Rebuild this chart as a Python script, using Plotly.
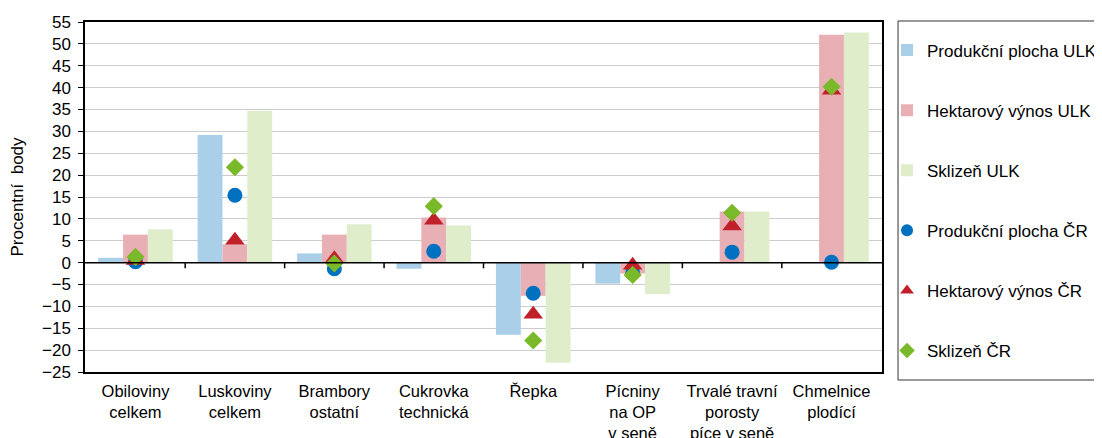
import plotly.graph_objects as go

categories = ["Obiloviny<br>celkem", "Luskoviny<br>celkem", "Brambory<br>ostatní", "Cukrovka<br>technická",
              "Řepka", "Pícniny<br>na OP<br>v seně", "Trvalé travní<br>porosty<br>píce v seně", "Chmelnice<br>plodící"]

plocha_ulk = [1.1, 29.2, 2.1, -1.4, -16.5, -4.8, 0.0, 0.1]
vynos_ulk = [6.4, 4.2, 6.4, 10.3, -7.6, -2.5, 11.7, 52.1]
sklizen_ulk = [7.6, 34.7, 8.8, 8.5, -22.9, -7.2, 11.7, 52.6]
plocha_cr = [0.2, 15.4, -1.4, 2.6, -7.0, -2.4, 2.4, 0.1]
vynos_cr = [0.5, 5.1, 0.9, 9.7, -11.8, -0.6, 8.4, 39.4]
sklizen_cr = [1.3, 21.8, -0.2, 12.9, -17.8, -2.8, 11.4, 40.2]

font = "Liberation Sans, Arial, sans-serif"
FS = 17

fig = go.Figure()
bar_specs = [("Produkční plocha ULK", plocha_ulk, "#A9CFE9"),
             ("Hektarový výnos ULK", vynos_ulk, "#E8B0B5"),
             ("Sklizeň ULK", sklizen_ulk, "#DFEDCA")]
for i, (name, vals, col) in enumerate(bar_specs):
    fig.add_trace(go.Bar(x=categories, y=vals, name=name, marker=dict(color=col, line=dict(width=0)),
                         legendgroup=f"g{i}"))

mk_specs = [("Produkční plocha ČR", plocha_cr, "#0070C0", "circle", 15),
            ("Hektarový výnos ČR", vynos_cr, "#C0202A", "triangle-up", 17),
            ("Sklizeň ČR", sklizen_cr, "#7AB929", "diamond", 14)]
for i, (name, vals, col, sym, sz) in enumerate(mk_specs):
    fig.add_trace(go.Scatter(x=categories, y=vals, name=name, mode="markers",
                             marker=dict(color=col, symbol=sym, size=sz, line=dict(width=0)),
                             legendgroup=f"m{i}"))

# small tick marks on the zero line between categories
for k in range(1, len(categories)):
    fig.add_shape(type="line", xref="x", yref="y", x0=k - 0.5, x1=k - 0.5, y0=0, y1=-1.3,
                  line=dict(color="black", width=1.5))
fig.add_shape(type="line", xref="paper", yref="y", x0=0, x1=1, y0=0, y1=0,
              line=dict(color="black", width=1.5))
# legend frame
fig.add_shape(type="rect", xref="paper", yref="paper", x0=1.0201, x1=1.3, y0=-0.0229, y1=1.0029,
              line=dict(color="#333333", width=1), fillcolor="rgba(0,0,0,0)", layer="above")

fig.update_layout(
    width=1094, height=430,
    margin=dict(l=77, r=220, t=14, b=66, autoexpand=False),
    paper_bgcolor="white", plot_bgcolor="white",
    font=dict(family=font, size=FS, color="black"),
    barmode="group", bargap=0.25, bargroupgap=0,
    showlegend=True,
    legend=dict(x=1.0063, y=0.97, xanchor="left", yanchor="top",
                borderwidth=0, bgcolor="rgba(0,0,0,0)",
                font=dict(family=font, size=FS, color="black"),
                traceorder="grouped", tracegroupgap=35, itemwidth=30, itemsizing="constant"),
    xaxis=dict(showline=True, linecolor="black", linewidth=1.5, mirror=True,
               ticks="", showgrid=False, tickfont=dict(size=16.5), ticklabelstandoff=3),
    yaxis=dict(range=[-25, 55], dtick=5, tick0=0, showline=True, linecolor="black", linewidth=1.5,
               mirror=True, ticks="outside", ticklen=5, tickcolor="black",
               showgrid=True, gridcolor="#CCCCCC", gridwidth=1, zeroline=False,
               tickfont=dict(size=FS), ticklabelstandoff=4,
               title=dict(text="Procentní  body", font=dict(size=FS), standoff=17)),
)

fig.write_html("out.html")
